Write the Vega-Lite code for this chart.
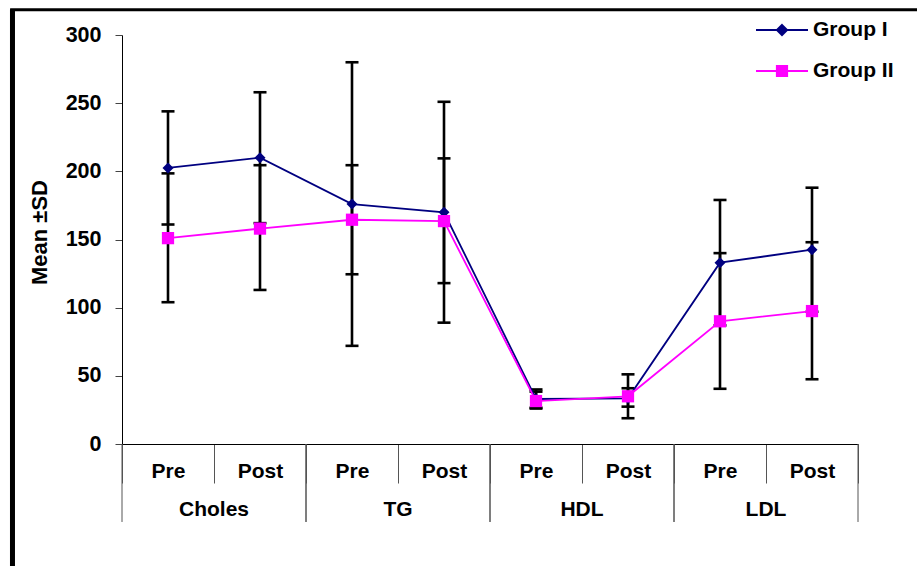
{
  "$schema": "https://vega.github.io/schema/vega-lite/v6.json",
  "width": 736,
  "height": 409,
  "autosize": "none",
  "padding": {"left": 122, "top": 35, "right": 59, "bottom": 122},
  "background": "white",
  "config": {"view": {"stroke": null}, "font": "Liberation Sans"},
  "datasets": {
    "stats": [
      {"group": "Group I", "cat": "Choles-Pre", "mean": 202.5, "lo": 161, "hi": 244},
      {"group": "Group I", "cat": "Choles-Post", "mean": 210, "lo": 162, "hi": 258},
      {"group": "Group I", "cat": "TG-Pre", "mean": 176, "lo": 72, "hi": 280},
      {"group": "Group I", "cat": "TG-Post", "mean": 170, "lo": 89, "hi": 251},
      {"group": "Group I", "cat": "HDL-Pre", "mean": 33, "lo": 26, "hi": 40},
      {"group": "Group I", "cat": "HDL-Post", "mean": 33.5, "lo": 27.4, "hi": 40.9},
      {"group": "Group I", "cat": "LDL-Pre", "mean": 133, "lo": 87, "hi": 179},
      {"group": "Group I", "cat": "LDL-Post", "mean": 142.5, "lo": 97, "hi": 188},
      {"group": "Group II", "cat": "Choles-Pre", "mean": 151, "lo": 104, "hi": 198.5},
      {"group": "Group II", "cat": "Choles-Post", "mean": 158, "lo": 113, "hi": 204.5},
      {"group": "Group II", "cat": "TG-Pre", "mean": 164.5, "lo": 124.5, "hi": 204.5},
      {"group": "Group II", "cat": "TG-Post", "mean": 163.5, "lo": 118, "hi": 209.5},
      {"group": "Group II", "cat": "HDL-Pre", "mean": 31.5, "lo": 26.6, "hi": 38.4},
      {"group": "Group II", "cat": "HDL-Post", "mean": 35, "lo": 18.9, "hi": 51.1},
      {"group": "Group II", "cat": "LDL-Pre", "mean": 90, "lo": 40.5, "hi": 140},
      {"group": "Group II", "cat": "LDL-Post", "mean": 97.5, "lo": 47.5, "hi": 148}
    ],
    "groups": [
      {"measure": "Choles", "first": "Choles-Pre", "last": "Choles-Post"},
      {"measure": "TG", "first": "TG-Pre", "last": "TG-Post"},
      {"measure": "HDL", "first": "HDL-Pre", "last": "HDL-Post"},
      {"measure": "LDL", "first": "LDL-Pre", "last": "LDL-Post"}
    ],
    "one": [{"k": 1}]
  },
  "layer": [
    {
      "layer": [
        {
          "data": {"name": "stats"},
          "mark": {"type": "rule", "color": "black", "strokeWidth": 2.6, "clip": false},
          "encoding": {
            "x": {
              "field": "cat", "type": "nominal", "title": null,
              "scale": {"type": "band", "domain": ["Choles-Pre", "Choles-Post", "TG-Pre", "TG-Post", "HDL-Pre", "HDL-Post", "LDL-Pre", "LDL-Post"], "paddingInner": 0, "paddingOuter": 0},
              "axis": {
                "orient": "bottom", "domainColor": "black", "domainWidth": 1,
                "tickBand": "extent", "tickSize": 39, "tickColor": "#555", "tickWidth": 1,
                "labelExpr": "split(datum.value, '-')[1]", "labelAngle": 0,
                "labelFont": "Liberation Sans", "labelFontSize": 21, "labelFontWeight": "bold",
                "labelColor": "black", "labelBaseline": "alphabetic", "labelPadding": -6, "grid": false
              }
            },
            "y": {
              "field": "lo", "type": "quantitative",
              "scale": {"domain": [0, 300], "nice": false},
              "axis": {
                "title": "Mean ±SD", "values": [0, 50, 100, 150, 200, 250, 300],
                "tickSize": 7, "tickColor": "#444", "tickWidth": 1, "domainColor": "black", "domainWidth": 1,
                "labelFont": "Liberation Sans", "labelFontSize": 21.5, "labelFontWeight": "bold", "labelColor": "black",
                "labelPadding": 14, "grid": false,
                "titleFont": "Liberation Sans", "titleFontSize": 22, "titleFontWeight": "bold", "titleColor": "black",
                "titleAngle": -90, "titleX": -76, "titleY": 197, "titleBaseline": "alphabetic", "titleAlign": "center"
              }
            },
            "y2": {"field": "hi"}
          }
        },
        {
          "data": {"name": "stats"},
          "mark": {"type": "tick", "color": "black", "thickness": 2.6, "size": 13, "opacity": 1, "clip": false},
          "encoding": {
            "x": {"field": "cat", "type": "nominal", "title": null, "scale": {"type": "band", "domain": ["Choles-Pre", "Choles-Post", "TG-Pre", "TG-Post", "HDL-Pre", "HDL-Post", "LDL-Pre", "LDL-Post"], "paddingInner": 0, "paddingOuter": 0}},
            "y": {"field": "lo", "type": "quantitative", "scale": {"domain": [0, 300], "nice": false}}
          }
        },
        {
          "data": {"name": "stats"},
          "mark": {"type": "tick", "color": "black", "thickness": 2.6, "size": 13, "opacity": 1, "clip": false},
          "encoding": {
            "x": {"field": "cat", "type": "nominal", "title": null, "scale": {"type": "band", "domain": ["Choles-Pre", "Choles-Post", "TG-Pre", "TG-Post", "HDL-Pre", "HDL-Post", "LDL-Pre", "LDL-Post"], "paddingInner": 0, "paddingOuter": 0}},
            "y": {"field": "hi", "type": "quantitative", "scale": {"domain": [0, 300], "nice": false}}
          }
        },
        {
          "data": {"name": "stats"},
          "mark": {"type": "line", "strokeWidth": 1.8, "clip": false},
          "encoding": {
            "x": {"field": "cat", "type": "nominal", "title": null, "scale": {"type": "band", "domain": ["Choles-Pre", "Choles-Post", "TG-Pre", "TG-Post", "HDL-Pre", "HDL-Post", "LDL-Pre", "LDL-Post"], "paddingInner": 0, "paddingOuter": 0}},
            "y": {"field": "mean", "type": "quantitative", "scale": {"domain": [0, 300], "nice": false}},
            "color": {
              "field": "group", "type": "nominal",
              "scale": {"domain": ["Group I", "Group II"], "range": ["#000080", "#FF00FF"]},
              "legend": {
                "title": null, "orient": "none", "legendX": 639, "legendY": -26, "padding": 0,
                "symbolSize": 1600, "symbolStrokeWidth": 1.8, "rowPadding": 10,
                "labelFont": "Liberation Sans", "labelFontSize": 21, "labelFontWeight": "bold", "labelColor": "black",
                "labelOffset": 10, "labelLimit": 300,
                "encode": {
                  "symbols": {
                    "update": {
                      "shape": {"signal": "datum.value == 'Group I' ? 'M-1.3,0H1.3M0,-0.26L0.26,0L0,0.26L-0.26,0Z' : 'M-1.3,0H1.3M-0.26,-0.26H0.26V0.26H-0.26Z'"},
                      "fill": {"signal": "datum.value == 'Group I' ? '#000080' : '#FF00FF'"},
                      "stroke": {"signal": "datum.value == 'Group I' ? '#000080' : '#FF00FF'"},
                      "strokeWidth": {"value": 1.8},
                      "opacity": {"value": 1},
                      "fillOpacity": {"value": 1},
                      "strokeOpacity": {"value": 1}
                    }
                  }
                }
              }
            },
            "order": {"field": "group"}
          }
        },
        {
          "data": {"name": "stats"},
          "transform": [{"filter": "datum.group == 'Group I'"}],
          "mark": {"type": "point", "shape": "diamond", "filled": true, "size": 121, "opacity": 1, "clip": false},
          "encoding": {
            "x": {"field": "cat", "type": "nominal", "title": null, "scale": {"type": "band", "domain": ["Choles-Pre", "Choles-Post", "TG-Pre", "TG-Post", "HDL-Pre", "HDL-Post", "LDL-Pre", "LDL-Post"], "paddingInner": 0, "paddingOuter": 0}},
            "y": {"field": "mean", "type": "quantitative", "scale": {"domain": [0, 300], "nice": false}},
            "color": {"field": "group", "type": "nominal", "scale": {"domain": ["Group I", "Group II"], "range": ["#000080", "#FF00FF"]}}
          }
        },
        {
          "data": {"name": "stats"},
          "transform": [{"filter": "datum.group == 'Group II'"}],
          "mark": {"type": "point", "shape": "square", "filled": true, "size": 150, "opacity": 1, "clip": false},
          "encoding": {
            "x": {"field": "cat", "type": "nominal", "title": null, "scale": {"type": "band", "domain": ["Choles-Pre", "Choles-Post", "TG-Pre", "TG-Post", "HDL-Pre", "HDL-Post", "LDL-Pre", "LDL-Post"], "paddingInner": 0, "paddingOuter": 0}},
            "y": {"field": "mean", "type": "quantitative", "scale": {"domain": [0, 300], "nice": false}},
            "color": {"field": "group", "type": "nominal", "scale": {"domain": ["Group I", "Group II"], "range": ["#000080", "#FF00FF"]}}
          }
        },
        {
          "data": {"name": "groups"},
          "mark": {"type": "rule", "color": "#555", "strokeWidth": 1, "clip": false},
          "encoding": {
            "x": {"field": "first", "type": "nominal", "title": null, "bandPosition": 0, "scale": {"type": "band", "domain": ["Choles-Pre", "Choles-Post", "TG-Pre", "TG-Post", "HDL-Pre", "HDL-Post", "LDL-Pre", "LDL-Post"], "paddingInner": 0, "paddingOuter": 0}},
            "y": {"datum": 0, "type": "quantitative", "scale": {"domain": [0, 300], "nice": false}},
            "y2": {"datum": -57.2}
          }
        },
        {
          "data": {"name": "groups"},
          "mark": {"type": "rule", "color": "#555", "strokeWidth": 1, "clip": false},
          "encoding": {
            "x": {"field": "last", "type": "nominal", "title": null, "bandPosition": 1, "scale": {"type": "band", "domain": ["Choles-Pre", "Choles-Post", "TG-Pre", "TG-Post", "HDL-Pre", "HDL-Post", "LDL-Pre", "LDL-Post"], "paddingInner": 0, "paddingOuter": 0}},
            "y": {"datum": 0, "type": "quantitative", "scale": {"domain": [0, 300], "nice": false}},
            "y2": {"datum": -57.2}
          }
        },
        {
          "data": {"name": "groups"},
          "mark": {"type": "text", "font": "Liberation Sans", "fontSize": 21, "fontWeight": "bold", "color": "black", "align": "center", "baseline": "alphabetic", "clip": false},
          "encoding": {
            "x": {"field": "last", "type": "nominal", "title": null, "bandPosition": 0, "scale": {"type": "band", "domain": ["Choles-Pre", "Choles-Post", "TG-Pre", "TG-Post", "HDL-Pre", "HDL-Post", "LDL-Pre", "LDL-Post"], "paddingInner": 0, "paddingOuter": 0}},
            "y": {"datum": -52.8, "type": "quantitative", "scale": {"domain": [0, 300], "nice": false}},
            "text": {"field": "measure"}
          }
        }
      ]
    },
    {
      "data": {"name": "one"},
      "layer": [
        {
          "mark": {"type": "rule", "color": "black", "strokeWidth": 5, "clip": false},
          "encoding": {
            "x": {"datum": -0.1488, "type": "quantitative", "scale": {"domain": [0, 1]}, "axis": null},
            "y": {"datum": 318.8, "type": "quantitative", "scale": {"domain": [0, 300], "nice": false}},
            "y2": {"datum": -100}
          }
        },
        {
          "mark": {"type": "rule", "color": "black", "strokeWidth": 3, "clip": false},
          "encoding": {
            "x": {"datum": -0.152, "type": "quantitative", "scale": {"domain": [0, 1]}, "axis": null},
            "x2": {"datum": 1.1},
            "y": {"datum": 318.6, "type": "quantitative", "scale": {"domain": [0, 300], "nice": false}}
          }
        }
      ]
    }
  ],
  "resolve": {"scale": {"x": "independent"}}
}
